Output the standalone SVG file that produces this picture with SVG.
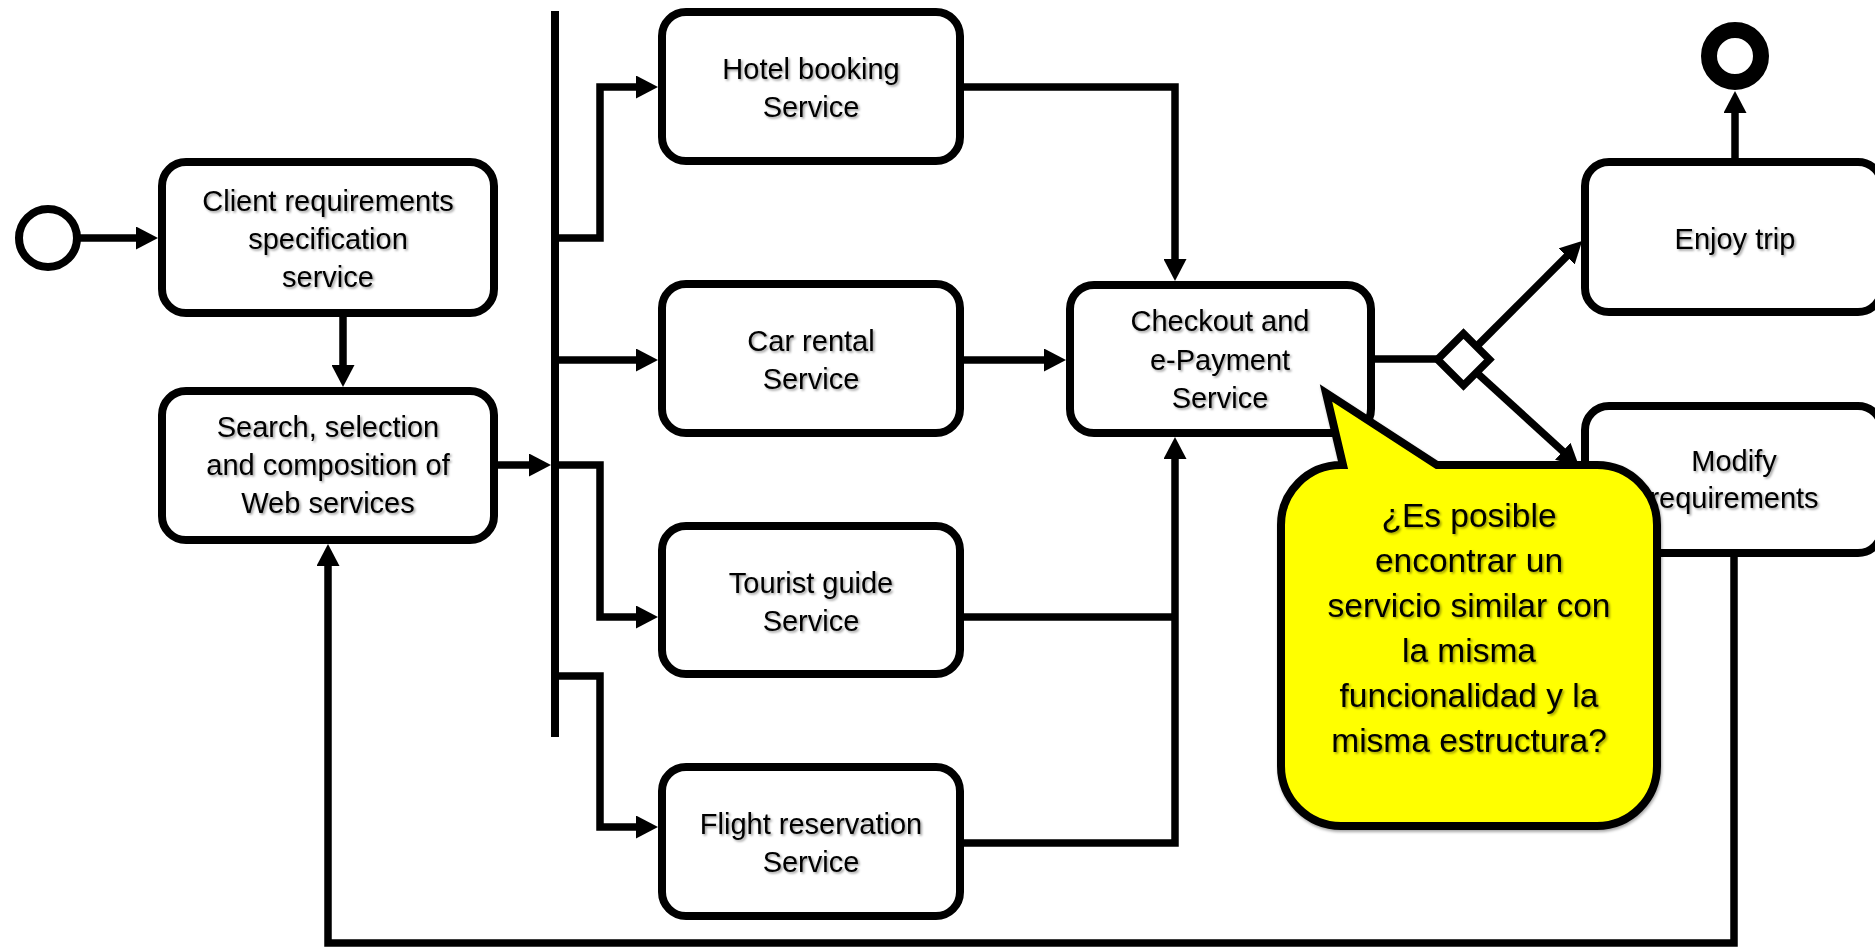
<svg xmlns="http://www.w3.org/2000/svg" width="1875" height="947" viewBox="0 0 1875 947">
  <defs>
    <marker id="arrow" markerUnits="userSpaceOnUse" viewBox="0 0 22 23" refX="12" refY="11.5" markerWidth="22" markerHeight="23" orient="auto">
      <path d="M0,0 L22,11.5 L0,23 Z" fill="#000"/>
    </marker>
    <filter id="textShadow" x="-10%" y="-30%" width="120%" height="160%">
      <feDropShadow dx="1.6" dy="1.6" stdDeviation="1" flood-color="#000" flood-opacity="0.4"/>
    </filter>
    <filter id="calloutShadow" x="-10%" y="-10%" width="120%" height="120%">
      <feDropShadow dx="1" dy="2" stdDeviation="1.5" flood-color="#000" flood-opacity="0.35"/>
    </filter>
  </defs>
  <style>
    .box { fill: #fff; stroke: #000; stroke-width: 8; }
    .conn { fill: none; stroke: #000; stroke-width: 7.5; stroke-linejoin: miter; }
    .arr { marker-end: url(#arrow); }
    .label { font-family: "Liberation Sans", Arial, sans-serif; font-size: 29px; fill: #000; text-anchor: middle; filter: url(#textShadow); }
    .note { font-family: "Liberation Sans", Arial, sans-serif; font-size: 33.5px; fill: #000; text-anchor: middle; filter: url(#textShadow); }
  </style>
  <rect width="1875" height="947" fill="#fff"/>

  <!-- connectors -->
  <g id="connectors">
    <path class="conn arr" d="M72 238 H148"/>
    <path class="conn arr" d="M343 317 V377"/>
    <path class="conn arr" d="M498 465 H541"/>
    <rect id="fork-bar" x="551" y="11" width="8" height="726" fill="#000"/>
    <path class="conn arr" d="M555 238 H600 V87 H648"/>
    <path class="conn arr" d="M555 360 H648"/>
    <path class="conn arr" d="M555 465 H600 V617 H648"/>
    <path class="conn arr" d="M555 676 H600 V827 H648"/>
    <path class="conn arr" d="M960 87 H1175 V271"/>
    <path class="conn arr" d="M960 360 H1056"/>
    <path class="conn" d="M960 617 H1175"/>
    <path class="conn arr" d="M960 843 H1175 V447"/>
    <path class="conn" d="M1370 359 H1438"/>
    <path class="conn arr" d="M1476.5 346.5 L1575 248"/>
    <path class="conn arr" d="M1476.5 372.5 L1571.6 459.3"/>
    <path class="conn arr" d="M1735 158 V101"/>
    <path class="conn arr" d="M1734 553 V943 H328 V554"/>
  </g>

  <!-- nodes -->
  <g id="start">
    <circle cx="48" cy="238" r="29" fill="#fff" stroke="#000" stroke-width="8"/>
  </g>
  <g id="end">
    <circle cx="1735" cy="56" r="26" fill="#fff" stroke="#000" stroke-width="16"/>
  </g>
  <g id="decision">
    <polygon points="1437.5,359.5 1463.5,333.5 1489.5,359.5 1463.5,385.5" fill="#fff" stroke="#000" stroke-width="7.5"/>
  </g>

  <g id="client-requirements">
    <rect class="box" x="162" y="162" width="332" height="151" rx="24"/>
    <text class="label" x="328" y="211">Client requirements</text>
    <text class="label" x="328" y="249">specification</text>
    <text class="label" x="328" y="287">service</text>
  </g>
  <g id="search-selection">
    <rect class="box" x="162" y="391" width="332" height="149" rx="24"/>
    <text class="label" x="328" y="437">Search, selection</text>
    <text class="label" x="328" y="475">and composition of</text>
    <text class="label" x="328" y="513">Web services</text>
  </g>
  <g id="hotel-booking">
    <rect class="box" x="662" y="12" width="298" height="149" rx="24"/>
    <text class="label" x="811" y="79">Hotel booking</text>
    <text class="label" x="811" y="117">Service</text>
  </g>
  <g id="car-rental">
    <rect class="box" x="662" y="284" width="298" height="149" rx="24"/>
    <text class="label" x="811" y="351">Car rental</text>
    <text class="label" x="811" y="389">Service</text>
  </g>
  <g id="tourist-guide">
    <rect class="box" x="662" y="526" width="298" height="148" rx="24"/>
    <text class="label" x="811" y="593">Tourist guide</text>
    <text class="label" x="811" y="631">Service</text>
  </g>
  <g id="flight-reservation">
    <rect class="box" x="662" y="767" width="298" height="149" rx="24"/>
    <text class="label" x="811" y="834">Flight reservation</text>
    <text class="label" x="811" y="872">Service</text>
  </g>
  <g id="checkout-payment">
    <rect class="box" x="1070" y="285" width="301" height="148" rx="24"/>
    <text class="label" x="1220" y="331">Checkout and</text>
    <text class="label" x="1220" y="370">e-Payment</text>
    <text class="label" x="1220" y="408">Service</text>
  </g>
  <g id="enjoy-trip">
    <rect class="box" x="1585" y="162" width="297" height="150" rx="24"/>
    <text class="label" x="1735" y="249">Enjoy trip</text>
  </g>
  <g id="modify-requirements">
    <rect class="box" x="1585" y="406" width="297" height="147" rx="24"/>
    <text class="label" x="1734" y="471">Modify</text>
    <text class="label" x="1734" y="508">requirements</text>
  </g>

  <!-- speech bubble note -->
  <g id="note">
    <path d="M1343 465 L1326 393 L1437 465 H1597 A60 60 0 0 1 1657 525 V766 A60 60 0 0 1 1597 826 H1341 A60 60 0 0 1 1281 766 V525 A60 60 0 0 1 1341 465 Z" fill="#ffff00" stroke="#000" stroke-width="8" stroke-linejoin="miter" filter="url(#calloutShadow)"/>
    <text class="note" x="1469" y="527">¿Es posible</text>
    <text class="note" x="1469" y="572">encontrar un</text>
    <text class="note" x="1469" y="617">servicio similar con</text>
    <text class="note" x="1469" y="662">la misma</text>
    <text class="note" x="1469" y="707">funcionalidad y la</text>
    <text class="note" x="1469" y="752">misma estructura?</text>
  </g>
</svg>
